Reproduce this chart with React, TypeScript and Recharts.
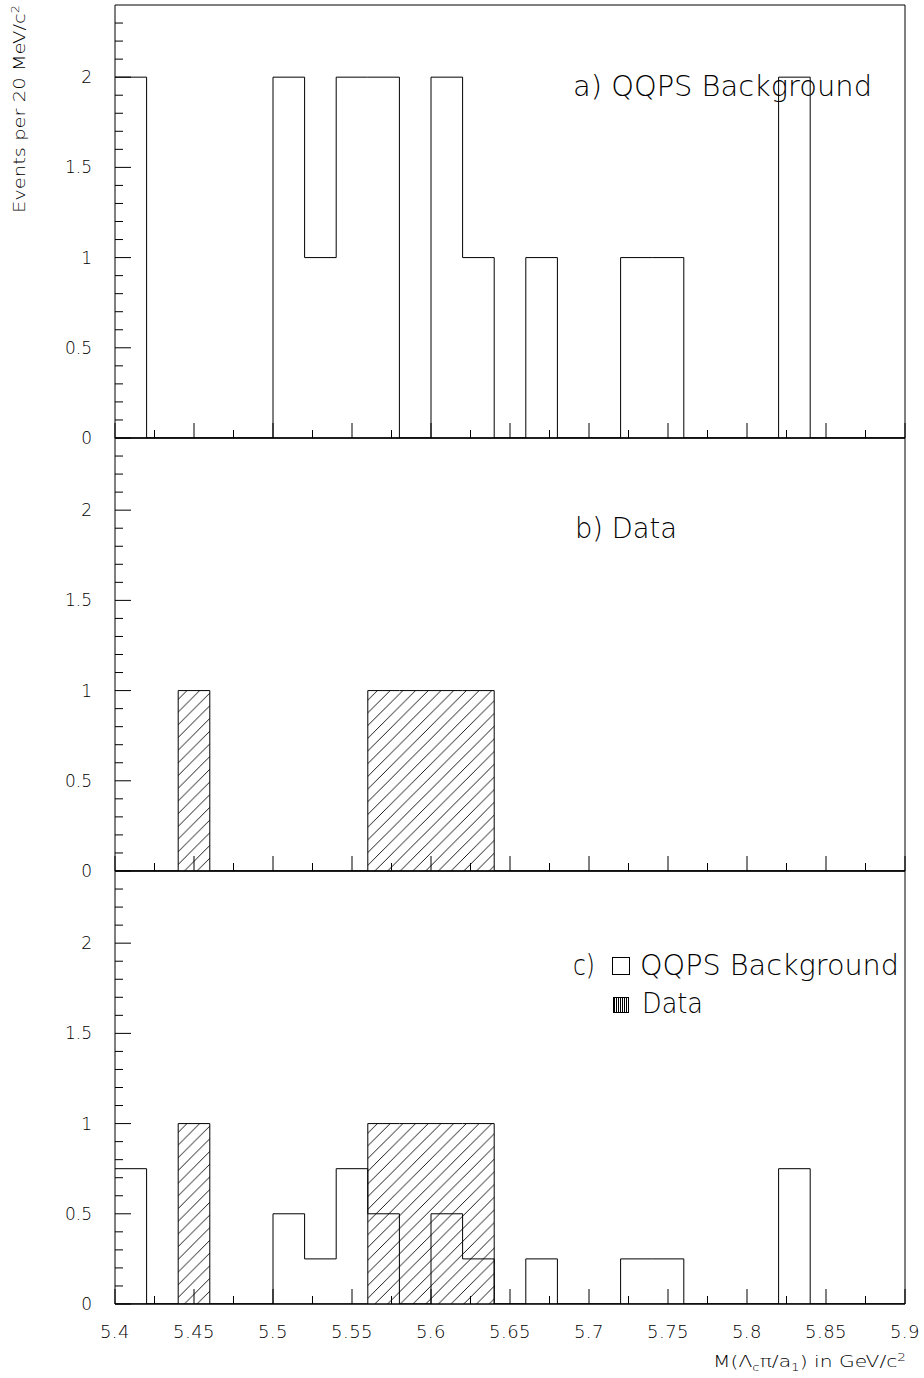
import React from 'react';
import { ComposedChart, Line, Area, XAxis, YAxis, ReferenceLine, Customized } from 'recharts';

// Bin low edges (20 MeV/c^2 bins) and the final upper edge
const binEdges = [
  5.40, 5.42, 5.44, 5.46, 5.48, 5.50, 5.52, 5.54, 5.56, 5.58,
  5.60, 5.62, 5.64, 5.66, 5.68, 5.70, 5.72, 5.74, 5.76, 5.78,
  5.80, 5.82, 5.84, 5.86, 5.88, 5.90,
];
// a) QQPS background
const bgCounts = [2, 0, 0, 0, 0, 2, 1, 2, 2, 0, 2, 1, 0, 1, 0, 0, 1, 1, 0, 0, 0, 2, 0, 0, 0];
// b) data
const dataCounts = [0, 0, 1, 0, 0, 0, 0, 0, 1, 1, 1, 1, 0, 0, 0, 0, 0, 0, 0, 0, 0, 0, 0, 0, 0];
// c) normalised background
const bgNorm = [0.75, 0, 0, 0, 0, 0.5, 0.25, 0.75, 0.5, 0, 0.5, 0.25, 0, 0.25, 0, 0, 0.25, 0.25, 0, 0, 0, 0.75, 0, 0, 0];

const xMajorTicks = [5.4, 5.45, 5.5, 5.55, 5.6, 5.65, 5.7, 5.75, 5.8, 5.85, 5.9];
const xTickLabels = ['5.4', '5.45', '5.5', '5.55', '5.6', '5.65', '5.7', '5.75', '5.8', '5.85', '5.9'];
const xMinorTicks = [5.425, 5.475, 5.525, 5.575, 5.625, 5.675, 5.725, 5.775, 5.825, 5.875];

const yMajorTicks = [0, 0.5, 1, 1.5, 2];
const yTickLabels = ['0', '0.5', '1', '1.5', '2'];
const yMinorTicks = [0.1, 0.2, 0.3, 0.4, 0.6, 0.7, 0.8, 0.9, 1.1, 1.2, 1.3, 1.4, 1.6, 1.7, 1.8, 1.9, 2.1, 2.2, 2.3];

const table = binEdges.map((x, i) => {
  const j = Math.min(i, bgCounts.length - 1);
  return { x, bg: bgCounts[j], data: dataCounts[j], bgNorm: bgNorm[j] };
});

const FONT = '"DejaVu Sans", sans-serif';
const xTicks = [...xMajorTicks, ...xMinorTicks].sort((a, b) => a - b);
const yTicks = [...yMajorTicks, ...yMinorTicks].sort((a, b) => a - b);

function findIdx(arr: number[], v: number) {
  return arr.findIndex((t) => Math.abs(t - v) < 1e-6);
}

function XTick(props: any) {
  const { x, y, payload, showLabel } = props;
  const v = payload.value;
  const mi = findIdx(xMajorTicks, v);
  const major = mi >= 0;
  return (
    <g>
      <line x1={x} x2={x} y1={y} y2={y - (major ? 15 : 8)} stroke="#000" strokeWidth={1} />
      {showLabel && major && (
        <text x={x} y={y + 34} textAnchor="middle" fontSize={18} letterSpacing={0.5} fontFamily={FONT} fontWeight={300} fill="#000">
          {xTickLabels[mi]}
        </text>
      )}
    </g>
  );
}

function YTick(props: any) {
  const { x, y, payload } = props;
  const v = payload.value;
  const mi = findIdx(yMajorTicks, v);
  const major = mi >= 0;
  return (
    <g>
      <line x1={x} x2={x + (major ? 16 : 8)} y1={y} y2={y} stroke="#000" strokeWidth={1} />
      {major && (
        <text x={x - 23} y={y + 6} textAnchor="end" fontSize={17} fontFamily={FONT} fontWeight={300} fill="#000">
          {yTickLabels[mi]}
        </text>
      )}
    </g>
  );
}

const textStyle = { fontFamily: FONT, fontWeight: 300, fill: '#000' } as any;

function TitleA() {
  return (
    <g>
      <text x={573} y={96} fontSize={28} textLength={299} lengthAdjust="spacingAndGlyphs" {...textStyle}>
        a) QQPS Background
      </text>
      <text transform="rotate(-90 25 109)" x={25} y={109} textAnchor="middle" fontSize={15} textLength={208} lengthAdjust="spacingAndGlyphs" {...textStyle}>
        Events per 20 MeV/c<tspan dy={-6} fontSize={10}>2</tspan>
      </text>
    </g>
  );
}

function TitleB() {
  // chart top at page y = 433
  return (
    <text x={575} y={538 - 433} fontSize={28} textLength={102} lengthAdjust="spacingAndGlyphs" {...textStyle}>
      b) Data
    </text>
  );
}

function TitleC() {
  // chart top at page y = 866
  const o = 866;
  return (
    <g>
      <text x={573} y={975 - o} fontSize={28} textLength={22} lengthAdjust="spacingAndGlyphs" {...textStyle}>
        c)
      </text>
      <rect x={612.5} y={957.5 - o} width={17} height={17} fill="none" stroke="#000" strokeWidth={1} />
      <text x={640} y={975 - o} fontSize={28} textLength={259} lengthAdjust="spacingAndGlyphs" {...textStyle}>
        QQPS Background
      </text>
      <rect x={613.5} y={997.5 - o} width={15} height={15} fill="url(#vstripes)" stroke="#000" strokeWidth={1} />
      <text x={642} y={1013 - o} fontSize={28} textLength={61} lengthAdjust="spacingAndGlyphs" {...textStyle}>
        Data
      </text>
      <text x={713} y={1367 - o} fontSize={15} textLength={193} lengthAdjust="spacingAndGlyphs" {...textStyle}>
        M(Λ<tspan dy={4} fontSize={10}>c</tspan>
        <tspan dy={-4}>π/a</tspan>
        <tspan dy={4} fontSize={10}>1</tspan>
        <tspan dy={-4}>) in GeV/c</tspan>
        <tspan dy={-6} fontSize={10}>2</tspan>
      </text>
    </g>
  );
}

type PanelProps = {
  top: number;
  height: number;
  bottom: number;
  showXLabels: boolean;
  bgKey?: string;
  hatched: boolean;
  title: any;
};

function Panel({ top, height, bottom, showXLabels, bgKey, hatched, title }: PanelProps) {
  return (
    <div style={{ position: 'absolute', left: 0, top }}>
      <ComposedChart
        width={924}
        height={height}
        data={table}
        margin={{ top: 5, right: 19, bottom, left: 100 }}
      >
        <XAxis
          dataKey="x"
          type="number"
          domain={[5.4, 5.9]}
          ticks={xTicks}
          interval={0}
          height={10}
          tickSize={0}
          tickMargin={0}
          tickLine={false}
          axisLine={{ stroke: '#000', strokeWidth: 1.5 }}
          tick={(p: any) => <XTick {...p} showLabel={showXLabels} />}
          allowDataOverflow
        />
        <YAxis
          type="number"
          domain={[0, 2.4]}
          ticks={yTicks}
          interval={0}
          width={15}
          tickSize={0}
          tickMargin={0}
          tickLine={false}
          axisLine={{ stroke: '#000', strokeWidth: 1 }}
          tick={(p: any) => <YTick {...p} />}
          allowDataOverflow
        />
        <ReferenceLine y={2.4} stroke="#000" strokeWidth={1} />
        <ReferenceLine x={5.9} stroke="#000" strokeWidth={1} />
        {hatched && (
          <Area
            dataKey="data"
            type="stepAfter"
            stroke="#000"
            strokeWidth={1}
            fill="url(#hatch)"
            fillOpacity={1}
            isAnimationActive={false}
            dot={false}
            activeDot={false}
          />
        )}
        {bgKey && (
          <Line
            dataKey={bgKey}
            type="stepAfter"
            stroke="#000"
            strokeWidth={1}
            dot={false}
            activeDot={false}
            isAnimationActive={false}
          />
        )}
        <Customized component={title} />
      </ComposedChart>
    </div>
  );
}

export default function App() {
  return (
    <div style={{ position: 'absolute', left: 0, top: 0, width: 924, height: 1378, background: '#fff' }}>
      <svg width={0} height={0} style={{ position: 'absolute' }}>
        <defs>
          <pattern id="hatch" patternUnits="userSpaceOnUse" width={12.7} height={12.7}>
            <path d="M0,12.7 L12.7,0 M-2,2 L2,-2 M10.7,14.7 L14.7,10.7" stroke="#000" strokeWidth={0.9} />
          </pattern>
          <pattern id="vstripes" patternUnits="userSpaceOnUse" width={2} height={4}>
            <line x1={0.5} x2={0.5} y1={0} y2={4} stroke="#000" strokeWidth={1} />
          </pattern>
        </defs>
      </svg>
      <Panel top={0} height={448} bottom={0} showXLabels={false} bgKey="bg" hatched={false} title={TitleA} />
      <Panel top={433} height={448} bottom={0} showXLabels={false} hatched={true} title={TitleB} />
      <Panel top={866} height={512} bottom={64} showXLabels={true} bgKey="bgNorm" hatched={true} title={TitleC} />
    </div>
  );
}
